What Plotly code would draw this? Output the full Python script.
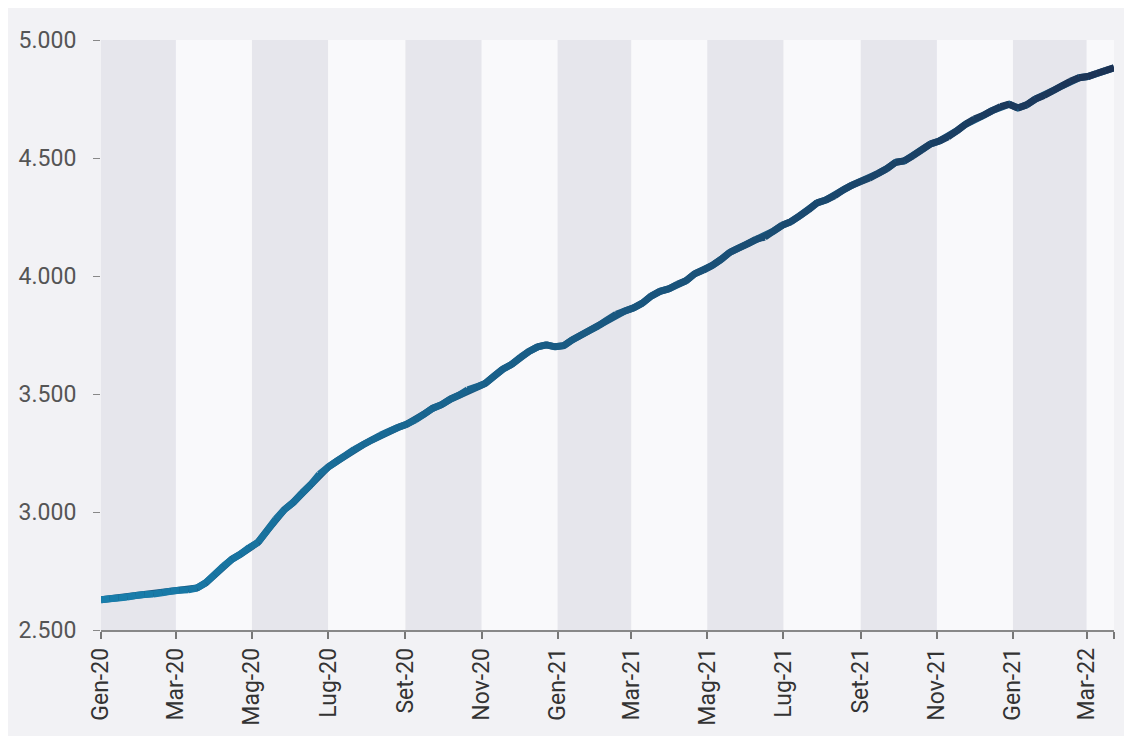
import numpy as np
import pandas as pd
import plotly.graph_objects as go

# weekly series
start_date = "2020-01-01"
values = [
    2628, 2632, 2636, 2640, 2646, 2650, 2652, 2658, 2664, 2668,
    2670, 2678, 2700, 2735, 2770, 2800, 2822, 2850, 2872, 2920,
    2970, 3010, 3040, 3080, 3115, 3160, 3190, 3215, 3240, 3265,
    3285, 3305, 3325, 3342, 3358, 3372, 3390, 3415, 3440, 3455,
    3478, 3495, 3518, 3530, 3545, 3575, 3605, 3625, 3655, 3680,
    3700, 3708, 3700, 3705, 3730, 3750, 3770, 3790, 3815, 3838,
    3852, 3865, 3885, 3915, 3935, 3945, 3965, 3980, 4010, 4025,
    4045, 4070, 4100, 4118, 4135, 4155, 4165, 4190, 4215, 4230,
    4255, 4280, 4310, 4322, 4340, 4365, 4385, 4400, 4415, 4435,
    4455, 4482, 4488, 4510, 4535, 4560, 4572, 4590, 4615, 4643,
    4665, 4680, 4700, 4718, 4728, 4712, 4725, 4750, 4765, 4785,
    4805, 4825, 4840, 4845, 4858, 4870, 4882,
]
dates = pd.date_range(start_date, periods=len(values), freq="7D")

tick_dates = [
    "2020-01-01", "2020-03-01", "2020-05-01", "2020-07-01", "2020-09-01",
    "2020-11-01", "2021-01-01", "2021-03-01", "2021-05-01", "2021-07-01",
    "2021-09-01", "2021-11-01", "2022-01-01", "2022-03-01",
]
tick_labels = [
    "Gen-20", "Mar-20", "Mag-20", "Lug-20", "Set-20", "Nov-20", "Gen-21",
    "Mar-21", "Mag-21", "Lug-21", "Set-21", "Nov-21", "Gen-21", "Mar-22",
]
x_end = "2022-03-23"
y_ticks = [2500, 3000, 3500, 4000, 4500, 5000]

c0 = np.array([24, 126, 172])
c1 = np.array([27, 50, 84])


def mix(t):
    r, g, b = (c0 + (c1 - c0) * t).round().astype(int)
    return f"rgb({r},{g},{b})"


fig = go.Figure()

# base line in a mid colour so the segment joins stay closed
fig.add_trace(go.Scatter(
    x=dates, y=values, mode="lines",
    line=dict(color=mix(0.5), width=7), hoverinfo="skip",
))
n = len(values)
for i in range(n - 1):
    fig.add_trace(go.Scatter(
        x=dates[i:i + 2], y=values[i:i + 2], mode="lines",
        line=dict(color=mix(i / (n - 2)), width=7), hoverinfo="skip",
    ))

# alternating two-month bands
shapes = []
for i in range(0, len(tick_dates), 2):
    x0 = tick_dates[i]
    x1 = tick_dates[i + 1] if i + 1 < len(tick_dates) else x_end
    shapes.append(dict(
        type="rect", xref="x", yref="y", x0=x0, x1=x1, y0=2500, y1=5000,
        fillcolor="#e6e6ec", line=dict(width=0), layer="below",
    ))

# page body has an 8px margin, so the figure is sized to fill the rest
fig.update_layout(
    width=1124, height=728,
    margin=dict(l=93, r=18, t=32, b=106),
    paper_bgcolor="#f2f2f5",
    plot_bgcolor="#f9f9fb",
    showlegend=False,
    separators=",.",
    shapes=shapes,
    font=dict(family="Roboto, Liberation Sans, sans-serif"),
)
fig.update_xaxes(
    type="date",
    range=[start_date, x_end],
    tickvals=tick_dates + [x_end],
    ticktext=tick_labels + [""],
    tickangle=-90,
    ticks="outside", ticklen=7, tickcolor="#777", tickwidth=1.5,
    showline=True, linecolor="#888", linewidth=1.5,
    showgrid=False, zeroline=False, automargin=False,
    tickfont=dict(size=23, color="#333"),
)
fig.update_yaxes(
    range=[2500, 5000],
    tickvals=y_ticks,
    tickformat=",d",
    ticks="outside", ticklen=7, tickcolor="#888", tickwidth=1,
    ticklabelstandoff=12,
    showline=False, showgrid=False, zeroline=False, automargin=False,
    tickfont=dict(size=23, color="#555"),
)

fig.write_html("out.html")
